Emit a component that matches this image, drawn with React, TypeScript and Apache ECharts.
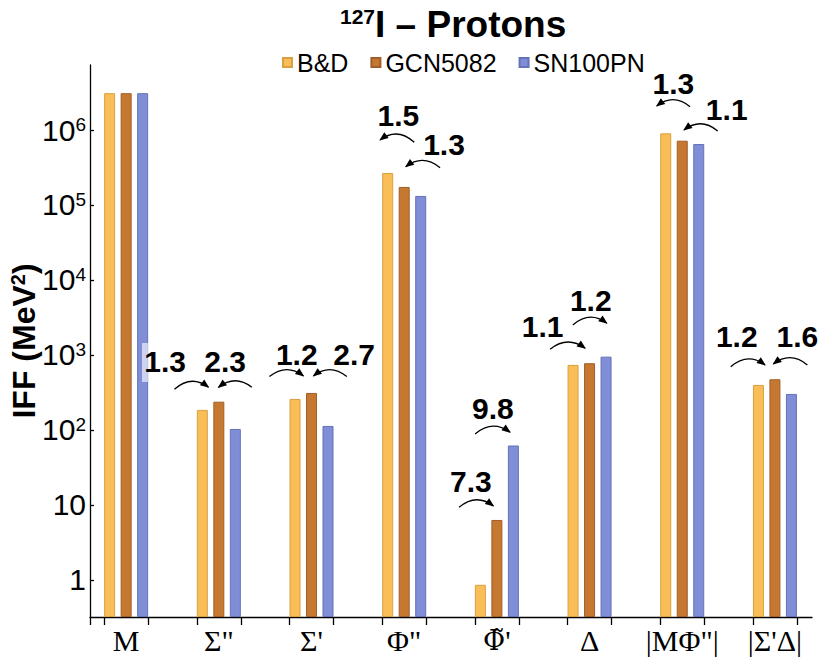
import React, { useEffect, useRef } from 'react';
import * as echarts from 'echarts';

const categories = ['M', 'Σ"', "Σ'", 'Φ"', "Φ̃'", 'Δ', '|MΦ"|', "|Σ'Δ|"];
const seriesNames = ['B&D', 'GCN5082', 'SN100PN'];
const bdValues = [3.1e6, 185, 259, 267000, 0.86, 736, 902000, 398];
const gcnValues = [3.1e6, 238, 311, 174000, 6.3, 775, 720000, 474];
const snValues = [3.1e6, 103, 113, 132000, 62, 949, 650000, 302];

// ratio annotations: label position (x in category units, y as log10 exponent)
// and arrow from (ax[0], ae[0]) to (ax[1], ae[1]) with head at the end
const annotations = [
  { t: '1.3', tx: 0.421, te: 2.911, ax: [0.521, 0.888], ae: [2.543, 2.569] },
  { t: '2.3', tx: 1.068, te: 2.911, ax: [1.356, 0.996], ae: [2.569, 2.569] },
  { t: '1.2', tx: 1.841, te: 3.0, ax: [1.546, 1.913], ae: [2.711, 2.72] },
  { t: '2.7', tx: 2.46, te: 3.0, ax: [2.381, 2.021], ae: [2.711, 2.72] },
  { t: '1.5', tx: 2.937, te: 6.2, ax: [3.109, 2.74], ae: [5.836, 5.867] },
  { t: '1.3', tx: 3.43, te: 5.8, ax: [3.387, 3.017], ae: [5.497, 5.511] },
  { t: '7.3', tx: 3.719, te: 1.311, ax: [3.592, 3.962], ae: [0.969, 0.987] },
  { t: '9.8', tx: 3.956, te: 2.289, ax: [3.765, 4.142], ae: [1.947, 1.969] },
  { t: '1.1', tx: 4.494, te: 3.377, ax: [4.574, 4.952], ae: [3.076, 3.089] },
  { t: '1.2', tx: 5.013, te: 3.724, ax: [4.819, 5.186], ae: [3.4, 3.423] },
  { t: '1.3', tx: 5.904, te: 6.623, ax: [6.084, 5.725], ae: [6.311, 6.32] },
  { t: '1.1', tx: 6.48, te: 6.276, ax: [6.383, 6.019], ae: [5.987, 6.0] },
  { t: '1.2', tx: 6.588, te: 3.244, ax: [6.523, 6.893], ae: [2.844, 2.867] },
  { t: '1.6', tx: 7.242, te: 3.244, ax: [7.35, 6.983], ae: [2.867, 2.88] },
];

const X_MIN = -0.39;
const X_MAX = 7.4;
const Y_MIN = 0.32;
const Y_MAX = 7.36e6;
const HALF_GROUP = 0.237;

const SANS = '"Liberation Sans", Arial, sans-serif';
const SERIF = '"Liberation Serif", "Times New Roman", serif';
const SERIF2 = '"DejaVu Serif", serif';

export default function App() {
  const ref = useRef<HTMLDivElement>(null);
  useEffect(() => {
    const chart = echarts.init(ref.current as HTMLDivElement, null, { renderer: 'svg' });
    const colors = [
      ['#F9BE57', '#D9A040'],
      ['#C67830', '#A05E28'],
      ['#7F8ED6', '#6472B8'],
    ];
    const valueSets = [bdValues, gcnValues, snValues];
    const series = seriesNames.map((name, k) => ({
      name,
      type: 'bar',
      barWidth: 11,
      barGap: '50%',
      data: valueSets[k].map((v, i) => [i, v]),
      itemStyle: { color: colors[k][0], borderColor: colors[k][1], borderWidth: 1 },
    }));
    const tickVals: number[] = [X_MIN];
    categories.forEach((_, i) => {
      tickVals.push(i - HALF_GROUP, i + HALF_GROUP);
    });
    const catLabel = (s: string) => {
      if (s.indexOf('\u0303') >= 0) {
        const parts = s.split('\u0303');
        return '{d|' + parts[0] + '\u0303}{c|' + parts[1] + '}';
      }
      return '{c|' + s + '}';
    };
    chart.setOption({
      animation: false,
      title: {
        text: '{sup|127}{b|I – Protons}',
        left: 335,
        top: 1,
        textStyle: {
          rich: {
            sup: { fontSize: 21, fontWeight: 'bold', fontFamily: SANS, color: '#000', verticalAlign: 'top' },
            b: { fontSize: 37, fontWeight: 'bold', fontFamily: SANS, color: '#000' },
          },
        },
      },
      legend: {
        data: seriesNames,
        left: 277,
        top: 45,
        icon: 'rect',
        itemWidth: 9,
        itemHeight: 9,
        itemGap: 22,
        textStyle: { fontSize: 25, fontFamily: SANS, color: '#000' },
      },
      grid: { left: 90, right: 18, top: 65, bottom: 43, containLabel: false, outerBoundsMode: 'none' },
      xAxis: {
        type: 'value',
        min: X_MIN,
        max: X_MAX,
        splitLine: { show: false },
        axisLine: { show: true, onZero: false, lineStyle: { color: '#000', width: 1.3 } },
        axisTick: {
          show: true,
          length: 8,
          inside: false,
          customValues: tickVals,
          lineStyle: { color: '#000', width: 1.3 },
        },
        axisLabel: {
          customValues: categories.map((_, i) => i),
          formatter: (v: number) => catLabel(categories[Math.round(v)] ?? ''),
          margin: 8,
          rich: {
            c: { fontFamily: SERIF, fontSize: 30, color: '#000' },
            d: { fontFamily: SERIF2, fontSize: 27, color: '#000' },
          },
        },
      },
      yAxis: {
        type: 'log',
        logBase: 10,
        min: Y_MIN,
        max: Y_MAX,
        startValue: Y_MIN,
        splitLine: { show: false },
        axisLine: { show: true, onZero: false, lineStyle: { color: '#000', width: 1.3 } },
        axisTick: { show: true, inside: true, length: 4, lineStyle: { color: '#000', width: 1.3 } },
        axisLabel: {
          showMinLabel: false,
          showMaxLabel: false,
          margin: 4,
          formatter: (v: number) => {
            const e = Math.log10(v);
            const r = Math.round(e);
            if (Math.abs(e - r) > 1e-6) return '';
            if (r === 0) return '{b|1}';
            if (r === 1) return '{b|10}';
            return '{b|10}{s|' + r + '}';
          },
          rich: {
            b: { fontSize: 30, fontFamily: SANS, color: '#000' },
            s: { fontSize: 19, fontFamily: SANS, color: '#000', verticalAlign: 'top' },
          },
        },
        name: '{b|IFF (MeV}{s|2}{b|)}',
        nameLocation: 'middle',
        nameRotate: 90,
        nameGap: 50,
        nameMoveOverlap: false,
        nameTextStyle: {
          rich: {
            b: { fontSize: 32, fontWeight: 'bold', fontFamily: SANS, color: '#000' },
            s: { fontSize: 20, fontWeight: 'bold', fontFamily: SANS, color: '#000', verticalAlign: 'top' },
          },
        },
      },
      series,
    });

    const toPx = (x: number, e: number) =>
      chart.convertToPixel({ gridIndex: 0 }, [x, Math.pow(10, e)]) as number[];
    const elements: any[] = [];
    annotations.forEach((a) => {
      const tp = toPx(a.tx, a.te);
      elements.push({
        type: 'text',
        x: tp[0],
        y: tp[1],
        style: {
          text: a.t,
          font: 'bold 30px ' + SANS,
          fill: '#000',
          align: 'center',
          verticalAlign: 'middle',
        },
        z: 10,
      });
      const p0 = toPx(a.ax[0], a.ae[0]);
      const p1 = toPx(a.ax[1], a.ae[1]);
      const cx = (p0[0] + p1[0]) / 2;
      const cy = Math.min(p0[1], p1[1]) - 13;
      elements.push({
        type: 'bezierCurve',
        shape: { x1: p0[0], y1: p0[1], x2: p1[0], y2: p1[1], cpx1: cx, cpy1: cy },
        style: { stroke: '#000', lineWidth: 1.3, fill: 'none' },
        z: 10,
      });
      let dx = p1[0] - cx;
      let dy = p1[1] - cy;
      const len = Math.sqrt(dx * dx + dy * dy) || 1;
      dx /= len;
      dy /= len;
      const hl = 8;
      const hw = 3.6;
      const bx = p1[0] - dx * hl;
      const by = p1[1] - dy * hl;
      elements.push({
        type: 'polygon',
        shape: {
          points: [
            [p1[0] + dx * 1, p1[1] + dy * 1],
            [bx - dy * hw, by + dx * hw],
            [bx + dy * hw, by - dx * hw],
          ],
        },
        style: { fill: '#000' },
        z: 10,
      });
    });
    elements.push({
      type: 'rect',
      shape: { x: 142, y: 343, width: 6, height: 39 },
      style: { fill: 'rgba(255,255,255,0.6)' },
      z: 5,
    });
    chart.setOption({ graphic: elements });
    return () => chart.dispose();
  }, []);
  return (
    <div
      ref={ref}
      style={{ position: 'absolute', left: 0, top: 0, width: 830, height: 660 }}
    />
  );
}
